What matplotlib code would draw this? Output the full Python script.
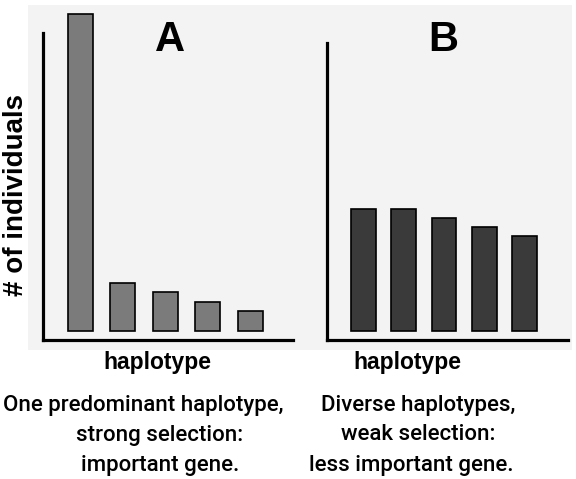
import numpy as np
import matplotlib.pyplot as plt
from matplotlib.patches import Rectangle

haplotypes = ["h1", "h2", "h3", "h4", "h5"]
counts_a = [317, 48, 39, 29, 20]
counts_b = [122, 122, 113, 104, 95]

W, H = 576, 479
fig = plt.figure(figsize=(W / 100, H / 100), dpi=100)
fig.patch.set_facecolor("white")

# light grey panel behind the plots
fig.patches.append(Rectangle((28 / W, 1 - 350 / H), 544 / W, 345 / H,
                             transform=fig.transFigure, facecolor="#f3f3f3",
                             edgecolor="none", zorder=-5))


def px_axes(x0, y_top, x1, y_bottom):
    return fig.add_axes([x0 / W, 1 - y_bottom / H, (x1 - x0) / W, (y_bottom - y_top) / H])


def style(ax):
    ax.set_facecolor("none")
    ax.set_zorder(2)
    for s in ["top", "right"]:
        ax.spines[s].set_visible(False)
    for s in ["left", "bottom"]:
        ax.spines[s].set_linewidth(2.3)
        ax.spines[s].set_color("black")
    ax.set_xticks([])
    ax.set_yticks([])


x = np.arange(len(haplotypes))

axA = px_axes(43, 33, 293, 340)
style(axA)
axA.bar(x, counts_a, width=0.59, color="#7b7b7b", edgecolor="black",
        linewidth=1.2, clip_on=False)
axA.set_ylim(-9, 298)
axA.set_xlim(-37.5 / 42.4, 4 + 43 / 42.4)

axB = px_axes(327, 43, 568, 340)
style(axB)
axB.bar(x, counts_b, width=0.62, color="#3a3a3a", edgecolor="black",
        linewidth=1.2)
axB.set_ylim(-9, 288)
axB.set_xlim(-36.5 / 40.25, 4 + 43.5 / 40.25)

fig.text(170 / W, 1 - 40 / H, "A", fontsize=30, fontweight="heavy",
         family="Liberation Sans", ha="center", va="center")
fig.text(443 / W, 1 - 40 / H, "B", fontsize=30, fontweight="heavy",
         family="Liberation Sans", ha="center", va="center")

fig.text(16 / W, 1 - 195 / H, "# of individuals", fontsize=20, fontweight="bold",
         family="Liberation Sans", rotation=90, ha="center", va="center")

fig.text(157 / W, 1 - 362 / H, "haplotype", fontsize=16.5, fontweight="bold",
         family="Liberation Sans", ha="center", va="center")
fig.text(407 / W, 1 - 362 / H, "haplotype", fontsize=16.5, fontweight="bold",
         family="Liberation Sans", ha="center", va="center")

caption_a = ["One predominant haplotype,", "strong selection:", "important gene."]
caption_b = ["Diverse haplotypes,", "weak selection:", "less important gene."]
xs_a = [143, 160, 160]
xs_b = [418, 418, 411]
for i, (ta, tb) in enumerate(zip(caption_a, caption_b)):
    y = 1 - (405 + 30 * i) / H
    fig.text(xs_a[i] / W, y, ta, fontsize=16, fontweight="medium", family="Roboto",
             ha="center", va="center")
    fig.text(xs_b[i] / W, y, tb, fontsize=16, fontweight="medium", family="Roboto",
             ha="center", va="center")

fig.savefig("out.png", dpi=100)
